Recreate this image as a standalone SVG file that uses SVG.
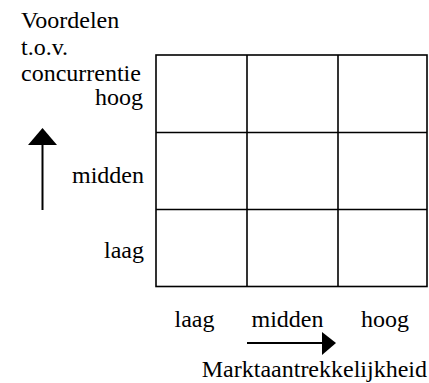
<svg xmlns="http://www.w3.org/2000/svg" width="429" height="383" viewBox="0 0 429 383">
<style>
text{font-family:'Liberation Serif','Times New Roman',serif;font-size:24px;fill:#000}
.g{fill:none;stroke:#000;stroke-width:1.6}
.e{text-anchor:end}
.c{text-anchor:middle}
</style>
<rect width="429" height="383" fill="#fff"/>
<g id="grid">
<rect class="g" x="156" y="55" width="271" height="231.5"/>
<line class="g" x1="247" y1="55" x2="247" y2="286.5"/>
<line class="g" x1="338" y1="55" x2="338" y2="286.5"/>
<line class="g" x1="156" y1="132.5" x2="427" y2="132.5"/>
<line class="g" x1="156" y1="209.5" x2="427" y2="209.5"/>
</g>
<g id="y-axis-title">
<text x="21" y="28">Voordelen</text>
<text x="21" y="55">t.o.v.</text>
<text x="21" y="80.5">concurrentie</text>
</g>
<g id="y-labels">
<text class="e" x="143" y="105">hoog</text>
<text class="e" x="144" y="183">midden</text>
<text class="e" x="144" y="258">laag</text>
</g>
<g id="x-labels">
<text class="c" x="194.5" y="327">laag</text>
<text class="c" x="287.5" y="327">midden</text>
<text class="c" x="385" y="327">hoog</text>
</g>
<g id="x-axis-title">
<text class="e" x="427" y="377">Marktaantrekkelijkheid</text>
</g>
<g id="connectors">
<line x1="42.5" y1="210" x2="42.5" y2="143" stroke="#000" stroke-width="2"/>
<polygon points="42.5,128 57,145 28,145" fill="#000"/>
<line x1="247" y1="343" x2="324" y2="343" stroke="#000" stroke-width="2"/>
<polygon points="336,343 322,332 322,355" fill="#000"/>
</g>
</svg>
